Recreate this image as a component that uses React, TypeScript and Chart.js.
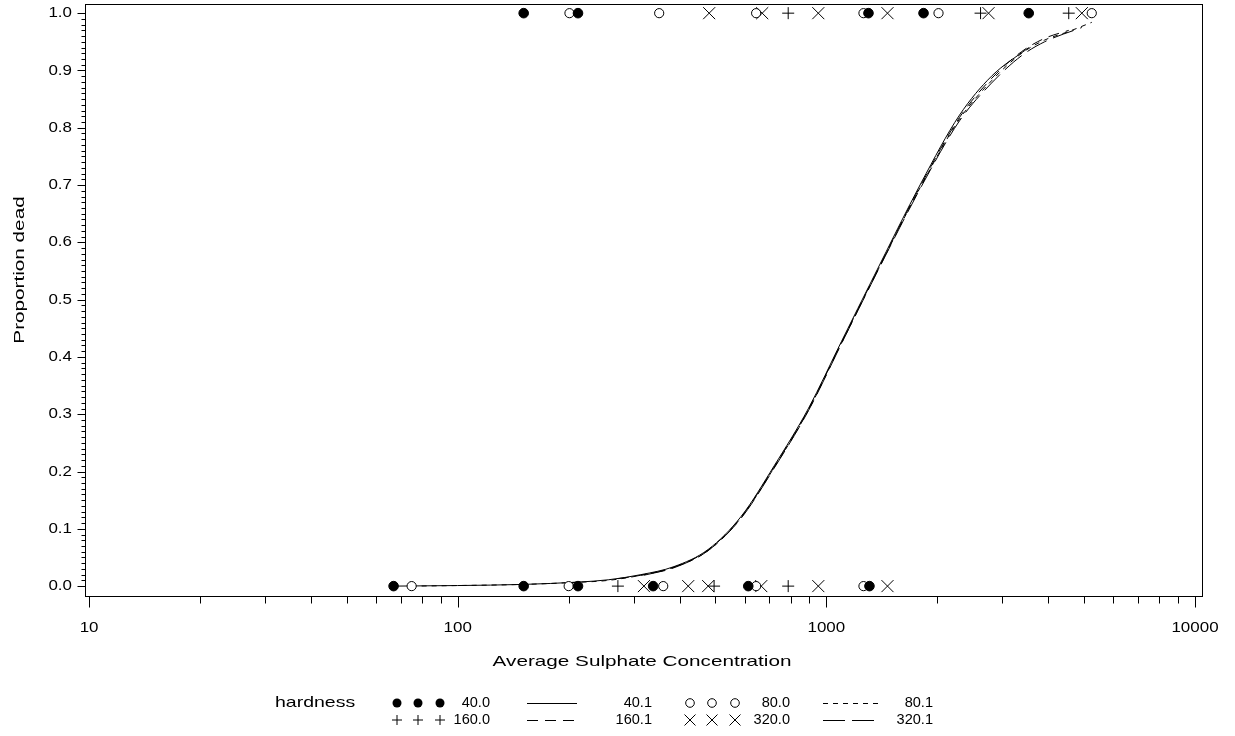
import React, { useEffect, useRef } from "react";
import { Chart, registerables } from "chart.js";

Chart.register(...registerables);

// ---- observed data (concentration, proportion dead 0/1) ----
const h40Conc = [67, 151, 151, 212, 212, 339, 614, 1309, 1301, 1835, 3540];
const h40Dead = [0, 0, 1, 0, 1, 0, 0, 0, 1, 1, 1];
const h80Conc = [75, 200, 201, 361, 352, 645, 645, 1261, 1261, 2015, 5248];
const h80Dead = [0, 0, 1, 0, 1, 0, 1, 0, 1, 1, 1];
const h160Conc = [272, 496, 788, 788, 2620, 4545];
const h160Dead = [0, 0, 0, 1, 1, 1];
const h320Conc = [320, 422, 478, 481, 666, 670, 951, 951, 1465, 1465, 2754, 4932];
const h320Dead = [0, 0, 0, 1, 0, 1, 0, 1, 0, 1, 1, 1];

// ---- fitted curves ----
const fit40X = [67, 100, 151, 212, 256, 314, 386, 478, 588, 722, 894, 1099, 1349, 1812, 2297, 2806, 3540];
const fit40Y = [0.0, 0.001, 0.003, 0.007, 0.011, 0.02, 0.034, 0.064, 0.122, 0.21, 0.31, 0.427, 0.542, 0.705, 0.822, 0.89, 0.94];
const fit80X = [75, 100, 151, 200, 256, 314, 386, 478, 588, 722, 894, 1099, 1349, 1812, 2297, 2806, 3388, 3908, 4545, 5248];
const fit80Y = [0.0, 0.001, 0.003, 0.006, 0.01, 0.019, 0.033, 0.062, 0.12, 0.207, 0.307, 0.424, 0.539, 0.7, 0.815, 0.882, 0.93, 0.953, 0.968, 0.984];
const fit160X = [272, 314, 386, 478, 588, 722, 894, 1099, 1349, 1812, 2297, 2806, 3388, 3908, 4545];
const fit160Y = [0.013, 0.019, 0.033, 0.063, 0.121, 0.208, 0.308, 0.425, 0.54, 0.702, 0.818, 0.886, 0.933, 0.956, 0.97];
const fit320X = [320, 386, 478, 588, 722, 894, 1099, 1349, 1812, 2297, 2806, 3388, 3908, 4932];
const fit320Y = [0.019, 0.032, 0.062, 0.119, 0.206, 0.306, 0.423, 0.538, 0.698, 0.812, 0.878, 0.926, 0.95, 0.975];

// ---- axis ticks ----
const xMajorTicks = [10, 100, 1000, 10000];
const xTickLabels = ["10", "100", "1000", "10000"];
const yMajorTicks = [0, 0.1, 0.2, 0.3, 0.4, 0.5, 0.6, 0.7, 0.8, 0.9, 1.0];
const yTickLabels = ["0.0", "0.1", "0.2", "0.3", "0.4", "0.5", "0.6", "0.7", "0.8", "0.9", "1.0"];

const xTitle = "Average Sulphate Concentration";
const yTitle = "Proportion dead";
const legendTitle = "hardness";
const legendPointLabels = ["40.0", "80.0", "160.0", "320.0"];
const legendLineLabels = ["40.1", "80.1", "160.1", "320.1"];

const FONT = "15px 'Liberation Sans', Arial, sans-serif";
const LEG_FONT = "14px 'Liberation Sans', Arial, sans-serif";
const TICK_SX = 1.13;
const LEG_SX = 1.04;
const TITLE_SX = 1.38;
const DASH80 = [5, 5];
const DASH160 = [11, 7];
const DASH320 = [22, 7];

const zip = (xs: number[], ys: number[]) => xs.map((x, i) => ({ x, y: ys[i] }));

function sText(ctx: CanvasRenderingContext2D, text: string, x: number, y: number, align: CanvasTextAlign, sx: number, rot = 0) {
  ctx.save();
  ctx.translate(x, y);
  if (rot) ctx.rotate(rot);
  ctx.scale(sx, 1);
  ctx.textAlign = align;
  ctx.fillText(text, 0, 0);
  ctx.restore();
}

function drawMarker(ctx: CanvasRenderingContext2D, kind: string, x: number, y: number) {
  ctx.save();
  ctx.strokeStyle = "#000";
  ctx.fillStyle = "#000";
  ctx.lineWidth = 1;
  ctx.beginPath();
  if (kind === "filled") {
    ctx.arc(x, y, 4.5, 0, Math.PI * 2);
    ctx.fill();
  } else if (kind === "open") {
    ctx.arc(x, y, 4.3, 0, Math.PI * 2);
    ctx.fillStyle = "#fff";
    ctx.fill();
    ctx.stroke();
  } else if (kind === "plus") {
    ctx.moveTo(x - 5, y);
    ctx.lineTo(x + 5, y);
    ctx.moveTo(x, y - 5);
    ctx.lineTo(x, y + 5);
    ctx.stroke();
  } else {
    ctx.moveTo(x - 5.5, y - 5.5);
    ctx.lineTo(x + 5.5, y + 5.5);
    ctx.moveTo(x + 5.5, y - 5.5);
    ctx.lineTo(x - 5.5, y + 5.5);
    ctx.stroke();
  }
  ctx.restore();
}

const decorPlugin = {
  id: "sasDecor",
  afterDraw(chart: any) {
    const ctx: CanvasRenderingContext2D = chart.ctx;
    const xs = chart.scales.x;
    const ys = chart.scales.y;
    const a = chart.chartArea;
    ctx.save();
    ctx.strokeStyle = "#000";
    ctx.fillStyle = "#000";
    ctx.lineWidth = 1;
    // frame
    ctx.strokeRect(Math.round(a.left) + 0.5, Math.round(a.top) + 0.5, Math.round(a.right - a.left) - 1, Math.round(a.bottom - a.top) - 1);
    const L = Math.round(a.left) + 0.5;
    const B = Math.round(a.bottom) - 0.5;
    // y ticks
    ctx.beginPath();
    for (let i = 0; i <= 100; i++) {
      const py = Math.round(ys.getPixelForValue(i / 100)) + 0.5;
      const len = i % 10 === 0 ? 8 : 4;
      ctx.moveTo(L, py);
      ctx.lineTo(L - len, py);
    }
    // x ticks
    for (let d = 0; d < xMajorTicks.length; d++) {
      const base = xMajorTicks[d];
      const px = Math.round(xs.getPixelForValue(base)) + 0.5;
      ctx.moveTo(px, B);
      ctx.lineTo(px, B + 11);
      if (d < xMajorTicks.length - 1) {
        for (let m = 2; m <= 9; m++) {
          const qx = Math.round(xs.getPixelForValue(base * m)) + 0.5;
          ctx.moveTo(qx, B);
          ctx.lineTo(qx, B + 7);
        }
      }
    }
    ctx.stroke();
    ctx.font = FONT;
    ctx.textBaseline = "middle";
    yMajorTicks.forEach((v, i) => {
      sText(ctx, yTickLabels[i], 72, ys.getPixelForValue(v), "right", TICK_SX);
    });
    xMajorTicks.forEach((v, i) => {
      sText(ctx, xTickLabels[i], xs.getPixelForValue(v), 628, "center", TICK_SX);
    });
    sText(ctx, xTitle, (xs.getPixelForValue(10) + xs.getPixelForValue(10000)) / 2, 662, "center", TITLE_SX);
    sText(ctx, yTitle, 20, 270, "center", TITLE_SX, -Math.PI / 2);
    // legend
    const r1 = 703;
    const r2 = 720;
    sText(ctx, legendTitle, 275, r1, "left", 1.3);
    ctx.font = LEG_FONT;
    const sym1 = [397, 418, 440];
    const sym2 = [690, 712, 735];
    sym1.forEach((x) => drawMarker(ctx, "filled", x, r1));
    sym1.forEach((x) => drawMarker(ctx, "plus", x, r2));
    sym2.forEach((x) => drawMarker(ctx, "open", x, r1));
    sym2.forEach((x) => drawMarker(ctx, "x", x, r2));
    sText(ctx, legendPointLabels[0], 490, r1, "right", LEG_SX);
    sText(ctx, legendPointLabels[2], 490, r2, "right", LEG_SX);
    sText(ctx, legendLineLabels[0], 652, r1, "right", LEG_SX);
    sText(ctx, legendLineLabels[2], 652, r2, "right", LEG_SX);
    sText(ctx, legendPointLabels[1], 790, r1, "right", LEG_SX);
    sText(ctx, legendPointLabels[3], 790, r2, "right", LEG_SX);
    sText(ctx, legendLineLabels[1], 933, r1, "right", LEG_SX);
    sText(ctx, legendLineLabels[3], 933, r2, "right", LEG_SX);
    const seg = (x1: number, x2: number, y: number, dash: number[]) => {
      ctx.save();
      ctx.setLineDash(dash);
      ctx.beginPath();
      ctx.moveTo(x1, y + 0.5);
      ctx.lineTo(x2, y + 0.5);
      ctx.stroke();
      ctx.restore();
    };
    seg(527, 577, r1, []);
    seg(527, 577, r2, DASH160);
    seg(823, 878, r1, DASH80);
    seg(823, 878, r2, DASH320);
    ctx.restore();
  },
};

export default function App() {
  const ref = useRef<HTMLCanvasElement | null>(null);
  useEffect(() => {
    if (!ref.current) return;
    const lineDs = (xs: number[], ys: number[], dash: number[]) => ({
      type: "line" as const,
      data: zip(xs, ys),
      showLine: true,
      borderColor: "#000",
      borderWidth: 1,
      borderDash: dash,
      pointRadius: 0,
      cubicInterpolationMode: "monotone" as const,
      fill: false,
      order: 2,
    });
    const ptDs = (xs: number[], ys: number[], style: string, bg: string, r: number) => ({
      type: "scatter" as const,
      data: zip(xs, ys),
      pointStyle: style,
      pointRadius: r,
      pointBackgroundColor: bg,
      pointBorderColor: "#000",
      pointBorderWidth: 1,
      showLine: false,
      order: 1,
    });
    const chart = new Chart(ref.current, {
      type: "scatter",
      data: {
        datasets: [
          lineDs(fit40X, fit40Y, []),
          lineDs(fit80X, fit80Y, DASH80),
          lineDs(fit160X, fit160Y, DASH160),
          lineDs(fit320X, fit320Y, DASH320),
          ptDs(h40Conc, h40Dead, "circle", "#000", 4.8),
          ptDs(h80Conc, h80Dead, "circle", "#fff", 4.6),
          ptDs(h160Conc, h160Dead, "cross", "#000", 6),
          ptDs(h320Conc, h320Dead, "crossRot", "#000", 8.5),
        ] as any,
      },
      options: {
        animation: false,
        responsive: false,
        devicePixelRatio: 1,
        layout: { autoPadding: false, padding: { left: 85, right: 32, top: 4, bottom: 139 } },
        plugins: { legend: { display: false }, tooltip: { enabled: false } },
        scales: {
          x: { type: "logarithmic", min: 9.75, max: 10513, display: false },
          y: { type: "linear", min: -0.019, max: 1.016, display: false },
        },
      },
      plugins: [decorPlugin],
    });
    return () => chart.destroy();
  }, []);
  return (
    <div style={{ position: "fixed", left: 0, top: 0, width: 1235, height: 736, background: "#fff" }}>
      <canvas ref={ref} width={1235} height={736} style={{ display: "block" }} />
    </div>
  );
}
